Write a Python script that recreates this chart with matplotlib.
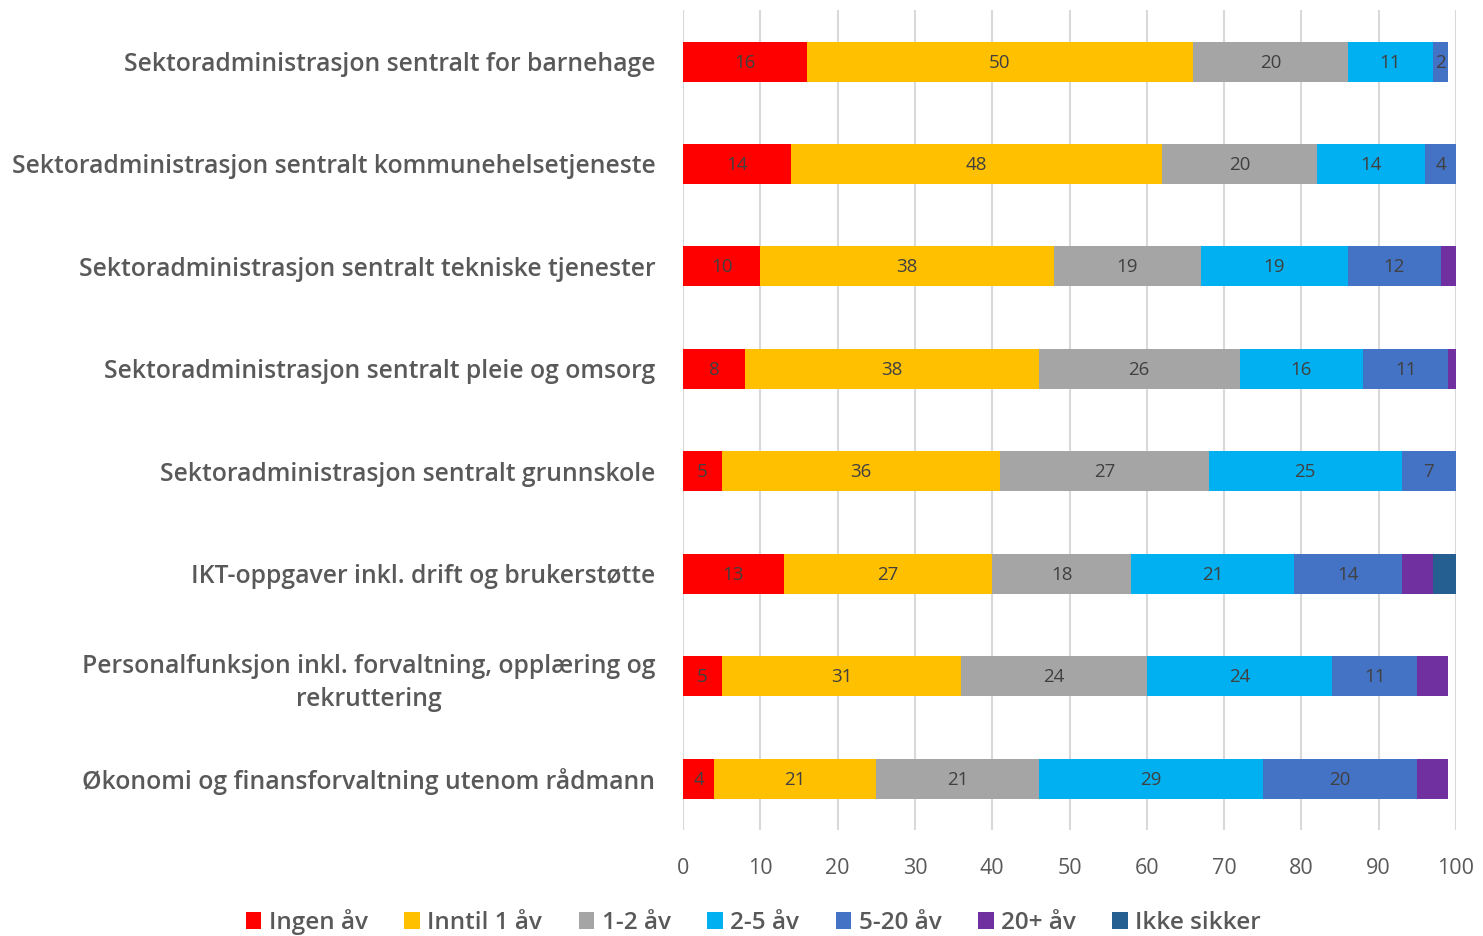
import matplotlib.pyplot as plt
import numpy as np

plt.rcParams['font.family'] = ['Open Sans', 'DejaVu Sans']

categories = [
    "Sektoradministrasjon sentralt for barnehage",
    "Sektoradministrasjon sentralt kommunehelsetjeneste",
    "Sektoradministrasjon sentralt tekniske tjenester",
    "Sektoradministrasjon sentralt pleie og omsorg",
    "Sektoradministrasjon sentralt grunnskole",
    "IKT-oppgaver inkl. drift og brukerstøtte",
    "Personalfunksjon inkl. forvaltning, opplæring og\nrekruttering",
    "Økonomi og finansforvaltning utenom rådmann",
]
series_names = ["Ingen åv", "Inntil 1 åv", "1-2 åv", "2-5 åv", "5-20 åv", "20+ åv", "Ikke sikker"]
ingen = [16, 14, 10, 8, 5, 13, 5, 4]
inntil1 = [50, 48, 38, 38, 36, 27, 31, 21]
aar12 = [20, 20, 19, 26, 27, 18, 24, 21]
aar25 = [11, 14, 19, 16, 25, 21, 24, 29]
aar520 = [2, 4, 12, 11, 7, 14, 11, 20]
aar20p = [0, 0, 2, 1, 0, 4, 4, 4]
ikke = [0, 0, 0, 0, 0, 3, 0, 0]
colors = ["#FF0000", "#FFC000", "#A5A5A5", "#00B0F0", "#4472C4", "#7030A0", "#255E91"]
labelled = [True, True, True, True, True, False, False]

data = [ingen, inntil1, aar12, aar25, aar520, aar20p, ikke]

fig = plt.figure(figsize=(14.83, 9.36), dpi=100)
ax = fig.add_axes([0.4606, 0.1132, 0.5212, 0.8758])

y = np.arange(len(categories))
left = np.zeros(len(categories))
for vals, name, c, lab in zip(data, series_names, colors, labelled):
    vals = np.array(vals, dtype=float)
    bars = ax.barh(y, vals, left=left, height=0.39, color=c, label=name, zorder=3)
    if lab:
        for b, v in zip(bars, vals):
            if v > 0:
                ax.text(b.get_x() + b.get_width() / 2, b.get_y() + b.get_height() / 2 + 0.01,
                        "%d" % v, ha='center', va='center', fontsize=13.5, color='#404040', zorder=4)
    left += vals

ax.set_xlim(0, 100)
ax.set_ylim(7.5, -0.5)
ax.set_xticks(range(0, 101, 10))
ax.tick_params(axis='x', length=0, labelsize=15.5, labelcolor='#595959', pad=20)
ax.set_yticks(y)
ax.set_yticklabels(categories, fontsize=17.8, color='#595959', fontweight='semibold')
for t in ax.get_yticklabels():
    t.set_multialignment('center')
    t.set_linespacing(1.4)
ax.tick_params(axis='y', length=0, pad=20)
ax.grid(axis='x', color='#D9D9D9', linewidth=1.5, zorder=0)
for s in ax.spines.values():
    s.set_visible(False)

fig.legend(loc='center', bbox_to_anchor=(0.508, 0.015), ncol=7, frameon=False,
           handlelength=0.65, handleheight=0.7, handletextpad=0.3,
           columnspacing=1.5, labelcolor='#595959',
           prop={'size': 17.5, 'weight': 'semibold'})

fig.savefig("out.png", dpi=100)
